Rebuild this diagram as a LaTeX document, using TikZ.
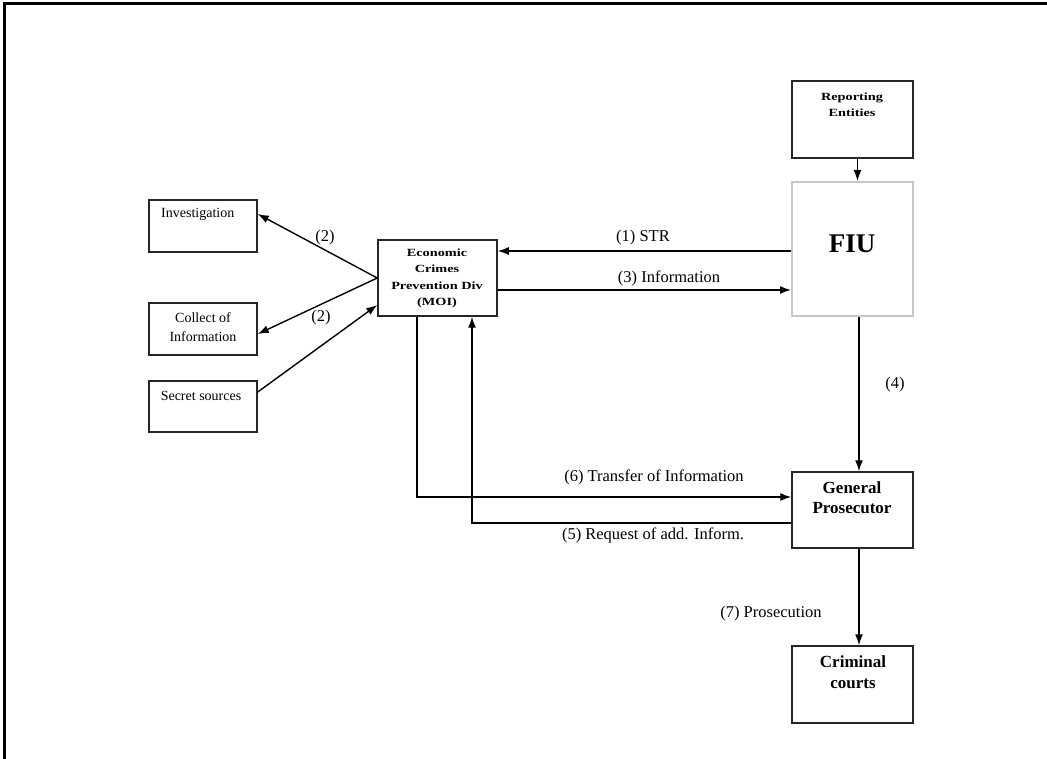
\documentclass[tikz,border=0pt]{standalone}
\usepackage{fontspec}
\setmainfont{Liberation Serif}
\newfontfamily\widefont{Liberation Serif}[FakeStretch=1.3]
\usetikzlibrary{arrows.meta,calc}
\tikzset{
  box/.style={draw=black!85, line width=1.5pt, fill=white, inner sep=0pt},
  lightbox/.style={draw=black!22, line width=2pt, fill=white, inner sep=0pt},
  conn/.style={line width=1.4pt, draw=black},
  arr/.style={conn, -{Latex[length=11pt,width=8pt]}},
  lbl/.style={font=\fontsize{16.5}{18}\selectfont, inner sep=0pt},
  boxtxt/.style={font=\fontsize{14}{19}\selectfont, inner sep=0pt, align=center},
  smallbold/.style={font=\widefont\bfseries\fontsize{11}{16.5}\selectfont, inner sep=0pt, align=center},
  bigbold/.style={font=\bfseries\fontsize{17}{20.5}\selectfont, inner sep=0pt, align=center}
}
\begin{document}
\begin{tikzpicture}[x=1pt,y=-1pt]
\useasboundingbox (0,0) rectangle (1047,759);
% frame
\draw[line width=3pt] (4,759) -- (4,4) -- (1047,4);

% boxes
\node[box, minimum width=121pt, minimum height=77pt] (rep) at (852.5,119.5) {};
\node[lightbox, minimum width=121pt, minimum height=134pt] (fiu) at (852.5,249) {};
\node[box, minimum width=119pt, minimum height=76pt] (eco) at (437.5,278) {};
\node[box, minimum width=108pt, minimum height=52pt] (inv) at (203,226) {};
\node[box, minimum width=108pt, minimum height=52pt] (col) at (203,329) {};
\node[box, minimum width=108pt, minimum height=51pt] (sec) at (203,406.5) {};
\node[box, minimum width=121pt, minimum height=76pt] (gp) at (852.5,510) {};
\node[box, minimum width=121pt, minimum height=77pt] (cc) at (852.5,684.5) {};

% box texts
\node[smallbold] (reptxt) at (852,104.5) {Reporting\\Entities};
\node[font=\bfseries\fontsize{27}{30}\selectfont, inner sep=0pt] (fiutxt) at (852,244) {FIU};
\node[smallbold] (ecotxt) at (437,278.5) {Economic\\Crimes\\Prevention Div\\(MOI)};
\node[boxtxt, anchor=west] (invtxt) at (161,214) {Investigation};
\node[boxtxt] (coltxt) at (203,327) {Collect of\\Information};
\node[boxtxt] (sectxt) at (201,396) {Secret sources};
\node[bigbold] (gptxt) at (852,497.5) {General\\Prosecutor};
\node[bigbold] (cctxt) at (853,672) {Criminal\\courts};

% connectors
\draw[arr] ([xshift=5pt]rep.south) -- ([xshift=5pt]fiu.north);
\draw[arr] (fiu.west |- 0,251) -- (eco.east |- 0,251);
\draw[arr] (eco.east |- 0,290) -- (fiu.west |- 0,290);
\draw[arr] (fiu.south -| 859,0) -- (gp.north -| 859,0);
\draw[arr] (gp.south -| 859,0) -- (cc.north -| 859,0);
\draw[arr] (eco.south -| 417,0) |- (gp.west |- 0,497);
\draw[arr] (gp.west |- 0,523) -| (eco.south -| 472,0);
\draw[arr] (eco.west) -- (inv.east |- 0,214);
\draw[arr] (eco.west) -- (col.east |- 0,334);
\draw[arr] (sec.east |- 0,392) -- (eco.west |- 0,305);

% labels
\node[lbl] (l2a) at (325,238) {(2)};
\node[lbl] (l2b) at (321,318) {(2)};
\node[lbl] (l1) at (643,238) {(1) STR};
\node[lbl] (l3) at (669,278) {(3) Information};
\node[lbl] (l4) at (895,385) {(4)};
\node[lbl] (l6) at (654,477) {(6) Transfer of Information};
\node[lbl] (l5) at (653,535) {(5) Request of add. Inform.};
\node[lbl] (l7) at (771,614) {(7) Prosecution};
\end{tikzpicture}
\end{document}
